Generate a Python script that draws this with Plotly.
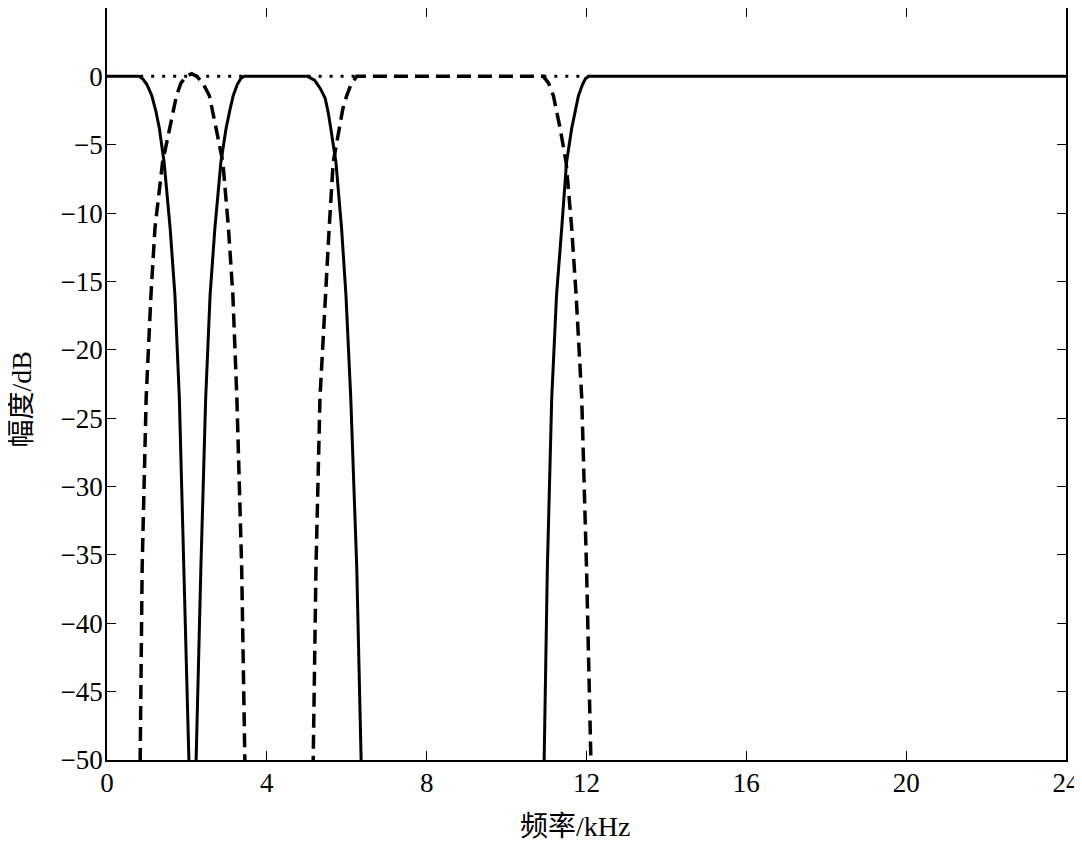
import plotly.graph_objects as go

# Solid curve (kHz, dB)
solid_f = [0, 0.80, 0.90, 1.00, 1.12, 1.22, 1.31, 1.43, 1.58, 1.70, 1.81, 1.93, 2.05, 2.14,
           2.23, 2.35, 2.47, 2.58, 2.70, 2.85, 2.98, 3.08, 3.16, 3.26, 3.35, 3.43,
           5.02, 5.20, 5.34, 5.46, 5.54, 5.60, 5.73, 5.87, 5.98, 6.10, 6.25, 6.36, 8.6,
           10.94, 11.02, 11.13, 11.25, 11.38, 11.50, 11.63, 11.72, 11.80, 11.90, 11.98, 12.06, 24]
solid_db = [0, 0, -0.2, -0.6, -1.4, -2.5, -3.8, -6.3, -11.1, -16, -23.5, -35.9, -50, -80,
            -50, -35.9, -23.5, -16, -11.1, -6.3, -3.8, -2.4, -1.4, -0.6, -0.15, 0,
            0, -0.3, -0.9, -1.6, -2.7, -3.8, -6.3, -11.1, -16, -23.5, -35.9, -50, -90,
            -50, -36, -23.5, -16, -11.1, -6.3, -3.8, -2.4, -1.4, -0.6, -0.15, 0, 0]

# Dashed curve (kHz, dB)
dash_f = [0, 0.83, 0.88, 0.98, 1.10, 1.20, 1.39, 1.56, 1.66, 1.74, 1.85, 1.98, 2.12, 2.25,
          2.40, 2.56, 2.73, 2.90, 3.04, 3.15, 3.25, 3.37, 3.45, 4.3,
          5.16, 5.23, 5.33, 5.46, 5.56, 5.66, 5.81, 5.90, 6.00, 6.12, 6.25,
          10.92, 11.05, 11.17, 11.34, 11.49, 11.63, 11.74, 11.88, 12.00, 12.11, 18, 24]
dash_db = [-90, -50, -35.9, -23.5, -16, -11.1, -6.3, -3.8, -2.4, -1.4, -0.5, 0, 0.2, 0,
           -0.5, -1.4, -3.8, -6.3, -11.1, -16, -23.5, -35.9, -50, -90,
           -50, -35.9, -23.5, -16, -11.1, -6.3, -3.8, -2.4, -1.4, -0.5, 0,
           0, -0.5, -1.4, -3.8, -6.3, -11.1, -16, -23.5, -35.9, -50, -90, -90]

# Dotted (sum) curve
dot_f = [0.83, 3.43, None, 5.02, 6.25, None, 10.92, 12.06]
dot_db = [0, 0, None, 0, 0, None, 0, 0]

x_ticks = [0, 4, 8, 12, 16, 20, 24]
y_ticks = [5, 0, -5, -10, -15, -20, -25, -30, -35, -40, -45, -50]
y_labels = ["5", "0", "\u22125", "\u221210", "\u221215", "\u221220", "\u221225",
            "\u221230", "\u221235", "\u221240", "\u221245", "\u221250"]

x_title = "频率/kHz"
y_title = "幅度/dB"

TICK_FONT = "Liberation Serif"
TITLE_FONT = "Liberation Serif, Noto Sans CJK SC, serif"

fig = go.Figure()
fig.add_trace(go.Scatter(x=dot_f, y=dot_db, mode="lines",
                         line=dict(color="black", width=3, dash="3px,8px"),
                         showlegend=False))
fig.add_trace(go.Scatter(x=dash_f, y=dash_db, mode="lines",
                         line=dict(color="black", width=3.5, dash="14px,7px"),
                         showlegend=False))
fig.add_trace(go.Scatter(x=solid_f, y=solid_db, mode="lines",
                         line=dict(color="black", width=3),
                         showlegend=False))

axis_common = dict(showgrid=False, zeroline=False, showline=True, mirror="ticks",
                   linecolor="black", linewidth=1.5, ticks="inside", ticklen=9,
                   tickwidth=1.2, tickcolor="black",
                   tickfont=dict(family=TICK_FONT, size=27, color="black"))

fig.update_xaxes(range=[0, 24], tickvals=x_ticks, ticktext=[str(v) for v in x_ticks],
                 ticklabelstandoff=-2, **axis_common)
fig.update_yaxes(range=[-50, 5], tickvals=y_ticks, ticktext=y_labels,
                 ticklabelstandoff=-3, **axis_common)

fig.add_annotation(text=x_title, xref="paper", yref="paper", x=0.488, y=-0.088,
                   xanchor="center", yanchor="middle", showarrow=False,
                   font=dict(family=TITLE_FONT, size=28, color="black"))
fig.add_annotation(text=y_title, xref="paper", yref="paper", x=-0.089, y=0.479,
                   xanchor="center", yanchor="middle", showarrow=False, textangle=-90,
                   font=dict(family=TITLE_FONT, size=28, color="black"))

# page body adds an 8px offset; size the figure to fit inside the window
fig.update_layout(width=1074, height=834, plot_bgcolor="white", paper_bgcolor="white",
                  margin=dict(l=99, r=16, t=0, b=82, autoexpand=False), showlegend=False)

fig.write_html("out.html")
